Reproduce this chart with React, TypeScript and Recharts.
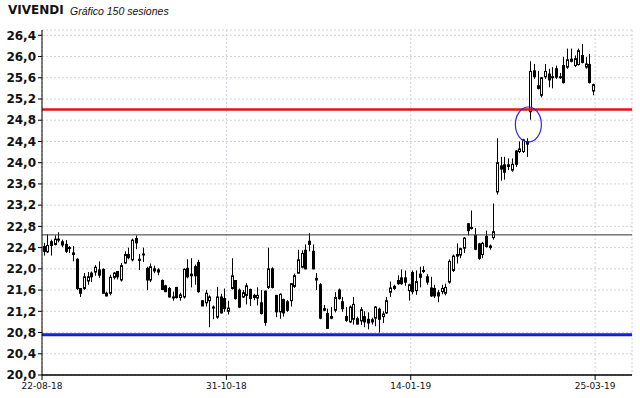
import { ComposedChart, Bar, XAxis, YAxis, CartesianGrid, ReferenceLine, ReferenceDot } from 'recharts';

// 150 sesiones, valores
const opens = [
  22.42, 22.32, 22.51, 22.46, 22.55, 22.51, 22.46, 22.40, 22.30, 22.18,
  21.63, 21.63, 21.77, 21.92, 21.94, 21.98, 21.99, 21.54, 21.54, 21.84,
  21.95, 21.79, 22.11, 22.27, 22.17, 22.57, 22.18, 22.28, 22.01, 21.79,
  22.00, 21.98, 21.78, 21.68, 21.63, 21.47, 21.65, 21.46, 21.47, 22.01,
  21.90, 22.04, 22.12, 21.40, 21.36, 21.40, 21.28, 21.09, 21.47, 21.44,
  21.20, 21.63, 21.78, 21.60, 21.47, 21.50, 21.61, 21.50, 21.45, 21.36,
  21.58, 21.65, 22.00, 21.50, 21.19, 21.42, 21.38, 21.40, 21.67, 21.92,
  22.03, 22.35, 22.52, 22.33, 21.82, 21.70, 21.25, 21.16, 21.10, 21.22,
  21.60, 21.38, 21.10, 21.00, 21.05, 21.06, 21.02, 21.10, 21.05, 21.04,
  21.07, 21.24, 21.10, 21.17, 21.56, 21.63, 21.78, 21.83, 21.83, 21.59,
  21.93, 21.59, 21.90, 21.97, 21.85, 21.64, 21.63, 21.55, 21.57, 21.54,
  21.75, 21.97, 22.24, 22.26, 22.39, 22.85, 22.78, 22.63, 22.47, 22.27,
  22.61, 22.43, 22.59, 23.45, 23.94, 23.96, 23.96, 23.86, 24.22, 24.21,
  24.21, 24.40, 24.96, 25.73, 25.40, 25.27, 25.62, 25.67, 25.60, 25.77,
  25.60, 25.83, 25.80, 25.91, 25.83, 25.85, 26.02, 25.80, 25.85, 25.35,
];
const highs = [
  22.49, 22.65, 22.55, 22.63, 22.69, 22.55, 22.54, 22.43, 22.43, 22.20,
  21.63, 21.92, 21.94, 21.95, 22.07, 22.14, 22.01, 21.57, 21.89, 21.94,
  21.95, 22.11, 22.33, 22.40, 22.57, 22.63, 22.28, 22.40, 22.04, 22.10,
  22.06, 22.01, 21.80, 21.70, 21.66, 21.57, 21.66, 21.55, 22.01, 22.18,
  22.20, 22.08, 22.17, 21.41, 21.60, 21.50, 21.31, 21.66, 21.53, 21.63,
  21.40, 22.20, 21.79, 21.63, 21.60, 21.73, 21.63, 21.53, 21.65, 21.60,
  21.59, 22.40, 22.03, 21.51, 21.54, 21.44, 21.41, 21.73, 21.91, 22.36,
  22.35, 22.46, 22.67, 22.46, 21.92, 21.73, 21.32, 21.25, 21.28, 21.56,
  21.63, 21.47, 21.28, 21.31, 21.47, 21.10, 21.28, 21.20, 21.18, 21.08,
  21.30, 21.27, 21.20, 21.47, 21.76, 21.70, 21.88, 21.99, 21.97, 21.72,
  21.97, 21.97, 22.04, 22.05, 21.90, 21.85, 21.70, 21.60, 21.70, 21.72,
  22.18, 22.27, 22.48, 22.40, 22.60, 22.86, 23.10, 22.77, 22.49, 22.51,
  22.72, 22.46, 23.23, 24.46, 24.11, 24.11, 24.08, 24.08, 24.24, 24.40,
  24.45, 24.46, 25.91, 25.86, 25.73, 25.61, 25.86, 25.77, 25.80, 25.83,
  25.69, 25.99, 26.15, 26.15, 26.02, 26.15, 26.24, 25.99, 26.05, 25.49,
];
const lows = [
  22.25, 22.30, 22.25, 22.44, 22.50, 22.41, 22.30, 22.30, 22.14, 21.60,
  21.47, 21.60, 21.70, 21.75, 21.87, 21.83, 21.54, 21.48, 21.50, 21.80,
  21.80, 21.76, 22.10, 22.18, 22.14, 22.37, 21.98, 22.13, 21.60, 21.75,
  21.92, 21.88, 21.60, 21.57, 21.46, 21.40, 21.44, 21.40, 21.44, 21.82,
  21.65, 21.70, 21.55, 21.30, 21.29, 20.90, 21.05, 21.06, 21.16, 21.19,
  21.14, 21.61, 21.42, 21.26, 21.45, 21.33, 21.30, 21.41, 21.31, 21.14,
  20.93, 21.62, 21.63, 21.09, 21.06, 21.10, 21.19, 21.29, 21.64, 21.91,
  22.01, 21.99, 22.33, 21.99, 21.60, 21.05, 21.20, 20.87, 21.05, 21.18,
  21.42, 21.19, 21.00, 20.98, 20.95, 20.95, 20.94, 20.90, 20.86, 20.95,
  20.92, 20.80, 20.98, 21.15, 21.47, 21.60, 21.70, 21.70, 21.68, 21.40,
  21.52, 21.51, 21.65, 21.92, 21.70, 21.47, 21.45, 21.37, 21.52, 21.50,
  21.72, 21.94, 22.10, 22.20, 22.30, 22.63, 22.74, 22.35, 22.17, 22.20,
  22.40, 22.36, 22.55, 23.40, 23.66, 23.68, 23.86, 23.83, 23.92, 24.18,
  24.18, 24.11, 24.81, 25.58, 25.38, 25.23, 25.58, 25.42, 25.40, 25.58,
  25.58, 25.49, 25.77, 25.89, 25.80, 25.83, 25.87, 25.77, 25.49, 25.27,
];
const closes = [
  22.33, 22.44, 22.44, 22.56, 22.56, 22.45, 22.33, 22.39, 22.27, 21.63,
  21.54, 21.85, 21.85, 21.85, 22.03, 21.88, 21.54, 21.49, 21.84, 21.92,
  21.85, 22.06, 22.27, 22.21, 22.54, 22.49, 22.16, 22.27, 21.79, 22.04,
  21.96, 21.94, 21.61, 21.57, 21.47, 21.47, 21.46, 21.51, 21.99, 21.85,
  21.87, 21.87, 21.57, 21.30, 21.54, 21.47, 21.27, 21.47, 21.17, 21.25,
  21.26, 21.87, 21.44, 21.28, 21.55, 21.68, 21.44, 21.46, 21.50, 21.16,
  20.99, 22.00, 21.65, 21.19, 21.52, 21.17, 21.22, 21.72, 21.87, 22.17,
  22.29, 22.00, 22.46, 22.00, 21.79, 21.07, 21.22, 20.88, 21.07, 21.46,
  21.44, 21.25, 21.03, 21.28, 21.33, 20.96, 21.23, 21.00, 20.98, 21.00,
  21.28, 21.05, 21.15, 21.40, 21.64, 21.67, 21.72, 21.72, 21.75, 21.70,
  21.57, 21.76, 21.84, 21.95, 21.75, 21.49, 21.49, 21.49, 21.63, 21.65,
  22.14, 22.24, 22.27, 22.38, 22.58, 22.72, 22.77, 22.37, 22.20, 22.48,
  22.42, 22.40, 22.70, 24.00, 23.88, 23.82, 23.93, 23.97, 23.97, 24.26,
  24.43, 24.35, 25.72, 25.62, 25.45, 25.60, 25.72, 25.56, 25.62, 25.61,
  25.62, 25.51, 25.94, 25.95, 25.96, 26.11, 25.89, 25.86, 25.51, 25.47,
];

const xTickIdx = [-0.5, 49.5, 99.5, 149.5];
const xTickLabels = ['22-08-18', '31-10-18', '14-01-19', '25-03-19'];
const yTicks = [20.0, 20.4, 20.8, 21.2, 21.6, 22.0, 22.4, 22.8, 23.2, 23.6, 24.0, 24.4, 24.8, 25.2, 25.6, 26.0, 26.4];

const resistance = 25.0;
const prevHigh = 22.64;
const support = 20.76;
const markIdx = 131.4;
const markPrice = 24.72;

const data = opens.map((o, i) => ({
  i,
  open: o,
  high: highs[i],
  low: lows[i],
  close: closes[i],
  range: [lows[i], highs[i]],
}));

const minorTicks = Array.from({ length: 66 }, (_, k) => Math.round((20 + k * 0.1) * 10) / 10);

const Candle = (props: any) => {
  const { x, y, width, height, payload } = props;
  const { open, close, high, low } = payload;
  const cx = Math.round(x + width / 2) + 0.5;
  const span = high - low;
  const py = (v: number) => (span > 0 ? y + ((high - v) / span) * height : y);
  const top = py(Math.max(open, close));
  const bot = py(Math.min(open, close));
  const up = close >= open;
  return (
    <g>
      <line x1={cx} x2={cx} y1={y} y2={y + height} stroke="#000" strokeWidth={1} />
      <rect x={cx - 1} y={top} width={2} height={Math.max(bot - top, 1)} fill={up ? '#fff' : '#000'} stroke="#000" strokeWidth={1} />
    </g>
  );
};

const Ellipse = (props: any) => (
  <ellipse cx={props.cx} cy={props.cy} rx={13} ry={17.5} fill="none" stroke="#2a2ae0" strokeWidth={1.2} />
);

export default function App() {
  return (
    <div style={{ position: 'absolute', left: 0, top: 0, width: 640, height: 398, background: '#fff' }}>
      <div style={{ position: 'absolute', left: 8, top: 3, fontFamily: 'DejaVu Sans', fontWeight: 'bold', fontSize: 12, color: '#111' }}>
        VIVENDI
      </div>
      <div style={{ position: 'absolute', left: 70, top: 5, fontFamily: 'Liberation Sans', fontStyle: 'italic', fontSize: 10.5, color: '#111' }}>
        Gráfico 150 sesiones
      </div>
      <ComposedChart width={640} height={398} data={data} margin={{ top: 30, right: 8, bottom: 0, left: 0 }}>
        <CartesianGrid stroke="#d0d0dc" strokeDasharray="2 2" />
        <XAxis
          type="number"
          dataKey="i"
          domain={[-0.5, 159.5]}
          ticks={xTickIdx}
          interval={0}
          allowDataOverflow
          height={23}
          tickSize={5}
          tickMargin={3}
          tickFormatter={(v: number) => xTickLabels[xTickIdx.indexOf(v)] ?? ''}
          tick={{ fontFamily: 'DejaVu Sans', fontSize: 9, fill: '#111' }}
          stroke="#000"
          axisLine={{ stroke: '#000', strokeWidth: 1.5 }}
        />
        <YAxis
          domain={[20, 26.5]}
          ticks={yTicks}
          interval={0}
          allowDataOverflow
          width={42}
          tickSize={4}
          tickFormatter={(v: number) => v.toFixed(1).replace('.', ',')}
          tick={{ fontFamily: 'DejaVu Sans', fontWeight: 'bold', fontSize: 12, fill: '#111' }}
          stroke="#000"
        />
        <YAxis
          yAxisId="minor"
          domain={[20, 26.5]}
          ticks={minorTicks}
          interval={0}
          allowDataOverflow
          width={0}
          mirror
          tickSize={3}
          tick={false}
          stroke="#000"
        />
        <ReferenceLine y={prevHigh} stroke="#333" strokeWidth={1} />
        <ReferenceLine y={resistance} stroke="#e81010" strokeWidth={2.5} />
        <ReferenceLine y={support} stroke="#1020e0" strokeWidth={3} />
        <Bar dataKey="range" barSize={3} shape={<Candle />} isAnimationActive={false} />
        <ReferenceDot x={markIdx} y={markPrice} shape={<Ellipse />} />
      </ComposedChart>
    </div>
  );
}
